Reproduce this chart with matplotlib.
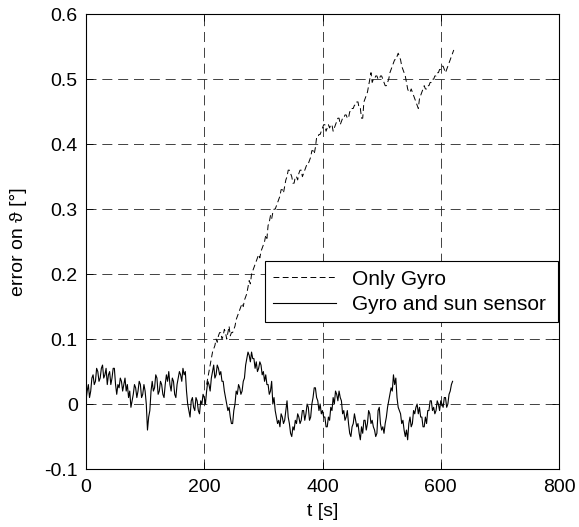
import matplotlib
matplotlib.use("Agg")
import matplotlib.pyplot as plt
import numpy as np

plt.rcParams['font.family'] = ['Liberation Sans', 'DejaVu Sans']

# gyro + sun sensor, every 2 s from 0 to 620
t_sun = np.arange(0, 622, 2)
err_sun = [
    0.005, 0.02, 0.03, 0.01, 0.02, 0.04, 0.045, 0.03, 0.035, 0.055,
    0.05, 0.035, 0.04, 0.055, 0.06, 0.04, 0.045, 0.055, 0.03, 0.045,
    0.05, 0.03, 0.04, 0.055, 0.055, 0.03, 0.015, 0.03, 0.025, 0.04,
    0.035, 0.02, 0.03, 0.04, 0.02, 0.03, 0.01, 0.02, -0.005, 0.005,
    0.015, 0.03, 0.025, 0.01, 0.02, 0.035, 0.03, 0.01, 0.015, 0.03,
    0.02, 0.0, -0.04, -0.02, -0.01, 0.02, 0.035, 0.02, 0.025, 0.045,
    0.04, 0.015, 0.02, 0.035, 0.03, 0.015, 0.01, 0.03, 0.045, 0.035,
    0.05, 0.03, 0.02, 0.04, 0.035, 0.015, 0.01, 0.03, 0.04, 0.05,
    0.045, 0.035, 0.055, 0.045, 0.05, 0.02, 0.0, -0.01, -0.02, 0.005,
    0.01, -0.005, -0.01, 0.01, 0.005, -0.01, -0.015, 0.005, 0.0, 0.015,
    0.01, 0.0, 0.02, 0.035, 0.03, 0.02, 0.04, 0.05, 0.06, 0.04,
    0.045, 0.06, 0.055, 0.045, 0.05, 0.035, 0.035, 0.02, 0.01, 0.0,
    -0.01, -0.005, -0.02, -0.03, -0.03, -0.01, 0.0, 0.02, 0.015, 0.03,
    0.025, 0.015, 0.02, 0.035, 0.04, 0.06, 0.07, 0.08, 0.075, 0.065,
    0.08, 0.07, 0.07, 0.055, 0.065, 0.05, 0.055, 0.065, 0.06, 0.045,
    0.05, 0.035, 0.045, 0.03, 0.03, 0.015, 0.02, 0.035, 0.0, 0.01,
    -0.01, -0.02, -0.03, -0.025, -0.035, -0.015, -0.02, -0.03, -0.025, -0.01,
    0.005, -0.02, -0.03, -0.045, -0.05, -0.035, -0.04, -0.025, -0.03, -0.015,
    -0.02, -0.03, -0.025, -0.01, -0.01, -0.025, -0.015, 0.0, -0.005, -0.025,
    -0.02, 0.0, 0.01, 0.025, 0.025, 0.01, 0.005, -0.01, 0.0, -0.015,
    -0.01, -0.02, -0.02, -0.035, -0.035, -0.02, -0.025, -0.005, -0.01, 0.01,
    0.0, 0.02, 0.015, 0.005, 0.02, 0.01, 0.005, -0.015, -0.01, -0.025,
    -0.02, -0.01, -0.03, -0.045, -0.05, -0.035, -0.03, -0.015, -0.025, -0.035,
    -0.03, -0.045, -0.055, -0.035, -0.045, -0.025, -0.025, -0.04, -0.03, -0.01,
    -0.015, -0.03, -0.025, -0.035, -0.04, -0.05, -0.045, -0.01, -0.005, -0.03,
    -0.04, -0.035, -0.045, -0.03, -0.02, -0.005, 0.005, 0.015, 0.025, 0.02,
    0.045, 0.03, 0.04, 0.01, -0.005, -0.01, -0.015, -0.03, -0.025, -0.04,
    -0.05, -0.04, -0.055, -0.03, -0.02, -0.035, -0.03, -0.01, -0.015, -0.005,
    0.0, -0.015, -0.005, -0.02, -0.02, -0.035, -0.035, -0.02, -0.03, -0.01,
    -0.01, 0.005, 0.005, -0.01, -0.005, -0.015, -0.01, 0.005, 0.0, -0.01,
    0.005, 0.0, -0.005, 0.01, 0.01, -0.005, 0.0, 0.015, 0.02, 0.03,
    0.035,
]

# gyro only, every 2 s from 204 to 622
t_gyro = np.arange(204, 624, 2)
err_gyro = [
    0.03, 0.04, 0.05, 0.06, 0.07, 0.08, 0.085, 0.09, 0.1, 0.095,
    0.105, 0.11, 0.11, 0.1, 0.105, 0.115, 0.11, 0.1, 0.11, 0.12,
    0.105, 0.11, 0.11, 0.115, 0.12, 0.13, 0.135, 0.14, 0.145, 0.15,
    0.155, 0.15, 0.16, 0.165, 0.17, 0.18, 0.19, 0.185, 0.2, 0.205,
    0.21, 0.215, 0.22, 0.225, 0.23, 0.225, 0.235, 0.24, 0.245, 0.25,
    0.26, 0.255, 0.275, 0.28, 0.29, 0.285, 0.295, 0.3, 0.3, 0.305,
    0.31, 0.315, 0.32, 0.33, 0.33, 0.325, 0.335, 0.345, 0.35, 0.36,
    0.36, 0.355, 0.35, 0.34, 0.34, 0.35, 0.35, 0.345, 0.355, 0.36,
    0.36, 0.35, 0.355, 0.36, 0.365, 0.37, 0.37, 0.375, 0.38, 0.39,
    0.39, 0.385, 0.395, 0.41, 0.41, 0.415, 0.415, 0.42, 0.425, 0.43,
    0.43, 0.42, 0.425, 0.43, 0.425, 0.43, 0.43, 0.42, 0.425, 0.43,
    0.435, 0.44, 0.44, 0.43, 0.435, 0.44, 0.44, 0.445, 0.445, 0.44,
    0.44, 0.45, 0.45, 0.455, 0.455, 0.46, 0.46, 0.465, 0.465, 0.455,
    0.455, 0.44, 0.44, 0.465, 0.47, 0.475, 0.48, 0.49, 0.5, 0.51,
    0.495, 0.5, 0.5, 0.505, 0.505, 0.5, 0.5, 0.505, 0.505, 0.5,
    0.495, 0.49, 0.49, 0.495, 0.5, 0.51, 0.515, 0.52, 0.525, 0.53,
    0.53, 0.535, 0.54, 0.535, 0.53, 0.52, 0.515, 0.51, 0.505, 0.495,
    0.485, 0.48, 0.48, 0.485, 0.48, 0.475, 0.47, 0.465, 0.46, 0.455,
    0.47, 0.475, 0.48, 0.485, 0.49, 0.485, 0.485, 0.49, 0.49, 0.495,
    0.495, 0.5, 0.5, 0.505, 0.505, 0.51, 0.51, 0.515, 0.515, 0.52,
    0.52, 0.515, 0.51, 0.515, 0.52, 0.525, 0.53, 0.535, 0.54, 0.545,
]

x_ticks = [0, 200, 400, 600, 800]
y_ticks = [-0.1, 0, 0.1, 0.2, 0.3, 0.4, 0.5, 0.6]
y_labels = ['-0.1', '0', '0.1', '0.2', '0.3', '0.4', '0.5', '0.6']

fig = plt.figure(figsize=(5.79, 5.27), dpi=100)
ax = fig.add_axes([0.1485, 0.110, 0.817, 0.863])

ax.plot(t_gyro, err_gyro, color='black', lw=0.7, linestyle=(0, (6, 3.5)), label='Only Gyro')
ax.plot(t_sun, err_sun, color='black', lw=0.8, label='Gyro and sun sensor')

ax.set_xlim(0, 800)
ax.set_ylim(-0.1, 0.6)
ax.set_xticks(x_ticks)
ax.set_yticks(y_ticks)
ax.set_xticklabels([str(v) for v in x_ticks])
ax.set_yticklabels(y_labels)
ax.tick_params(direction='in', top=True, right=True, length=5, width=0.6,
               labelsize=14)
ax.tick_params(axis='x', pad=7)
ax.tick_params(axis='y', pad=6)
ax.grid(True, color='#222222', linestyle=(0, (12, 7)), lw=0.6)
for s in ax.spines.values():
    s.set_linewidth(0.8)

ax.set_xlabel('t [s]', fontsize=14, labelpad=5)
ax.set_ylabel('error on ϑ [°]', fontsize=14, labelpad=12)

leg = ax.legend(loc='lower left', bbox_to_anchor=(0.378, 0.323, 0.62, 0.147),
                mode='expand', fontsize=15, handlelength=3.0, fancybox=False,
                framealpha=1, borderaxespad=0, borderpad=0.4, labelspacing=0.3)
leg.get_frame().set_edgecolor('black')
leg.get_frame().set_linewidth(0.8)

fig.savefig('out.png', dpi=100)
